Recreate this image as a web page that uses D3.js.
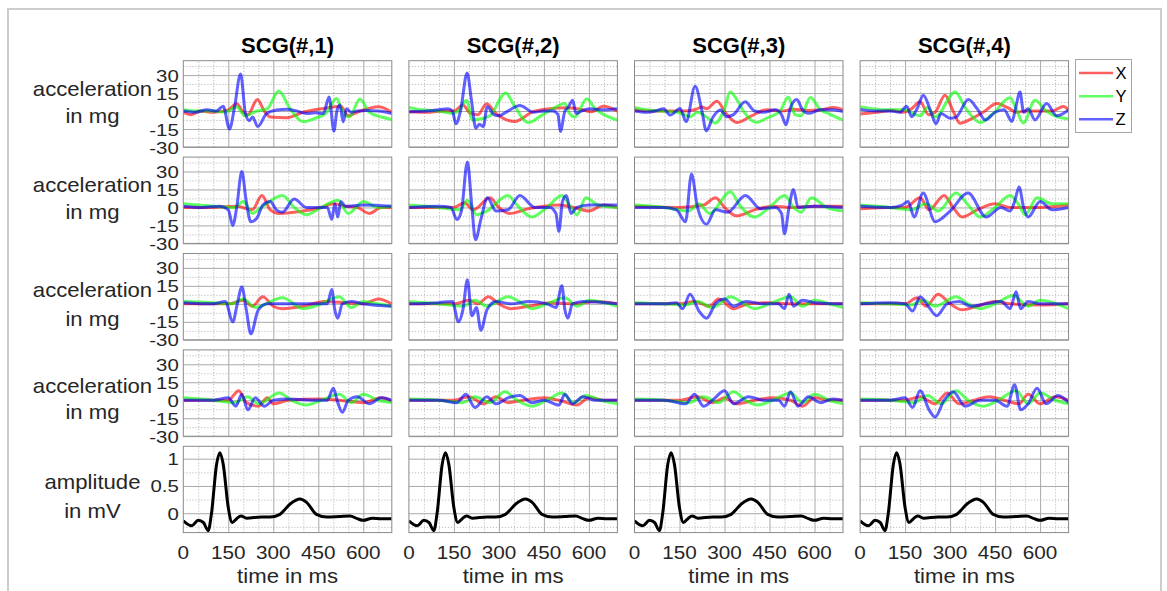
<!DOCTYPE html>
<html><head><meta charset="utf-8">
<script src="https://cdn.jsdelivr.net/npm/d3@7"></script>
<style>body{margin:0;background:#fff}</style>
</head><body><svg id="c" width="1167" height="591"></svg>
<script>
// ---------- categories / ticks ----------
const columnTitles = ["SCG(#,1)", "SCG(#,2)", "SCG(#,3)", "SCG(#,4)"];
const seriesNames = ["X", "Y", "Z"];
const timeTicks = [0, 150, 300, 450, 600];
const timeMinorTicks = [50, 100, 200, 250, 350, 400, 500, 550, 650];
const accTicks = [-30, -15, 0, 15, 30];
const accMinorTicks = [-22.5, -7.5, 7.5, 22.5, 37.5];
const ampTicks = [0, 0.5, 1];
const ampMinorTicks = [-0.25, 0.25, 0.75];
const rowLabels = [["acceleration", "in mg"], ["acceleration", "in mg"], ["acceleration", "in mg"], ["acceleration", "in mg"], ["amplitude", "in mV"]];
const xLabel = "time in ms";

// ---------- series values: [time ms, value] ----------
// row 1
const r1c1X = [[0,-1],[25,-3],[55,0],[100,-1],[150,1],[178,6],[200,-1],[215,-3],[247,9.6],[270,0],[290,-5],[345,-5.5],[400,-1],[489,3],[525,4],[550,-4],[580,-1],[650,3.6],[695,-1]];
const r1c1Y = [[0,1],[40,0],[100,0],[140,-1],[178,3.6],[205,-4],[245,0],[280,2],[318,16.7],[356,2],[400,-9],[440,-6],[475,-2],[511,10.5],[530,0],[553,-5],[589,10],[620,-1],[660,-5],[695,-7]];
const r1c1Z = [[0,0],[40,-1],[80,1],[110,0],[133,4],[154,-15],[170,2],[191,31],[207,-2],[220,-8],[231,-5],[248,-13],[278,-2],[311,0.8],[345,1.5],[378,0],[411,-2],[440,-1.5],[467,-2],[486,11.8],[502,-16.8],[512,0],[522,5],[533,-9],[544,2],[560,-1],[580,0],[611,0.5],[650,0],[695,-2]];
const r1c2X = [[0,-0.5],[60,-1],[110,0],[150,0],[180,5],[205,-2],[230,-3],[259,6],[290,-2],[353,-8.7],[414,-0.5],[470,2],[525,2.8],[560,2],[609,-0.5],[648,4],[695,0]];
const r1c2Y = [[0,3],[40,1],[100,0],[145,-2],[165,0],[192,9],[212,-7.5],[240,-6.5],[270,-4],[323,15.1],[350,5],[398,-9.6],[440,-4],[480,2],[520,6.3],[535,-2],[553,-5],[593,10.3],[620,2],[650,-3],[695,-7.5]];
const r1c2Z = [[0,-0.5],[60,0],[100,1],[130,2],[145,0],[157,-10.6],[172,0],[194,31.7],[208,10],[223,-14.3],[235,-11],[248,-13],[261,3.5],[283,-3],[300,-4],[330,0],[370,4.6],[415,-1],[450,0],[480,0],[497,-3],[505,-17],[520,0],[531,3],[546,9],[557,-2],[575,0],[603,2],[640,1],[695,2]];
const r1c3X = [[0,1],[50,0],[100,0],[160,0],[200,1],[225,3.3],[240,2],[275,8.2],[305,-2],[341,-9.6],[390,-4],[441,1.1],[490,0],[530,1.5],[580,0.5],[620,1],[664,3],[695,1]];
const r1c3Y = [[0,3],[40,1],[90,0],[145,-1],[186,-4.7],[210,-1],[240,-5],[270,-10],[300,2],[319,15.9],[340,10],[363,0],[408,-9.6],[440,-6],[485,0],[513,11.8],[535,-3],[555,-4],[586,11.2],[620,1],[650,-2.5],[695,-7.5]];
const r1c3Z = [[0,0],[40,-1],[70,0],[97,2],[119,-3.4],[152,2.2],[172,-8.8],[202,20.6],[225,0],[239,-16.5],[262,-5],[286,0.8],[308,-4.7],[330,-3],[369,7.7],[400,0],[430,-1],[470,1],[490,-3],[505,-11.5],[520,3],[541,9.6],[560,1],[580,-1.9],[620,1],[660,1],[695,-0.5]];
const r1c4X = [[0,-2.5],[55,-1],[110,0.5],[145,-1],[172,2],[200,7.7],[228,-3],[250,-1],[283,13.2],[310,0],[333,-10.2],[367,-7],[410,-1],[456,6.3],[490,3],[522,-1],[550,0],[600,0],[640,0],[678,3.8],[695,1]];
const r1c4Y = [[0,3.5],[40,2],[100,1],[150,1],[175,-2],[200,-4],[225,3],[250,-5],[317,15.9],[350,3],[365,-2],[400,-9.6],[440,-3],[500,11],[520,2],[544,-10],[583,9],[620,0],[660,-5],[695,-6.5]];
const r1c4Z = [[0,1.4],[50,0],[100,0],[133,-1],[155,4],[172,-4.7],[190,2],[211,13.2],[235,0],[253,-10.7],[270,-2],[300,-6],[320,-5],[361,9.6],[390,2],[417,-7.4],[450,-1],[480,1],[506,-8.8],[518,2],[533,15.9],[545,-1],[560,2],[583,-7.4],[622,6.3],[655,-4],[695,1]];
// row 2
const r2c1X = [[0,0],[100,0],[180,1],[230,-2],[262,10],[290,-2],[320,-5],[400,-3],[460,0],[500,3],[540,1],[580,0],[620,-5],[660,0],[695,0]];
const r2c1Y = [[0,3],[100,1],[170,0],[200,5],[230,-5],[260,0],[330,10],[370,0],[410,-6],[460,0],[515,6],[550,-5],[600,5],[650,0],[695,1]];
const r2c1Z = [[0,1],[60,0],[120,1],[150,-2],[165,-15],[178,0],[195,30],[210,5],[225,-12],[245,-9],[265,2],[290,5],[310,-2],[330,-4],[370,7],[410,0],[450,0],[480,0],[495,-10],[505,3],[515,-8],[525,5],[540,1],[600,2],[695,1]];
const r2c2X = [[0,0],[150,0],[185,4],[215,-2],[270,8],[300,0],[335,-5],[400,-1],[450,1],[500,2],[550,0],[600,-3],[650,2],[695,0]];
const r2c2Y = [[0,2],[100,0],[170,-2],[195,6],[225,-6],[260,-3],[330,10],[360,2],[410,-8],[460,0],[510,10],[540,0],[560,-6],[590,8],[630,2],[695,0]];
const r2c2Z = [[0,0],[100,1],[140,0],[160,-10],[175,-3],[195,38],[210,0],[222,-27],[240,-10],[262,8],[290,-3],[330,-2],[370,10],[420,0],[470,0],[490,-5],[500,-20],[512,5],[525,10],[540,-5],[560,0],[600,2],[695,2]];
const r2c3X = [[0,1],[150,0],[230,2],[270,8],[300,0],[340,-7],[400,-2],[460,1],[520,0],[600,1],[695,1]];
const r2c3Y = [[0,2],[100,0],[180,-3],[215,3],[250,-5],[320,13],[350,2],[400,-8],[450,0],[500,10],[530,0],[555,-4],[590,8],[640,0],[695,-3]];
const r2c3Z = [[0,0],[100,0],[140,-2],[170,-12],[190,28],[210,0],[240,-14],[270,-2],[310,-4],[370,10],[420,-1],[470,0],[490,-5],[500,-22],[515,0],[530,15],[545,0],[600,1],[695,0]];
const r2c4X = [[0,-1],[100,0],[150,0],[200,8],[230,-2],[280,10],[310,0],[340,-8],[390,-2],[450,3],[500,0],[600,0],[695,2]];
const r2c4Y = [[0,2],[100,0],[170,-2],[220,3],[260,-3],[320,12],[360,2],[400,-8],[450,0],[500,10],[530,2],[550,-6],[590,8],[640,3],[695,3]];
const r2c4Z = [[0,1],[100,0],[140,2],[160,5],[180,-8],[210,12],[250,-12],[300,-3],[360,12],[420,-8],[470,0],[500,-3],[515,5],[530,17],[545,0],[560,-8],[600,5],[640,-2],[695,0]];
// row 3
const r3c1X = [[0,0],[150,0],[200,3],[230,-2],[265,6],[300,-2],[330,-4],[400,-2],[470,2],[540,1],[600,0],[650,4],[695,0]];
const r3c1Y = [[0,2],[100,1],[160,0],[200,4],[240,-3],[330,5],[400,-4],[460,0],[520,6],[560,-3],[600,2],[650,0],[695,-2]];
const r3c1Z = [[0,1],[100,0],[140,2],[165,-15],[180,0],[195,14],[210,-5],[225,-25],[250,-5],[280,0],[350,0],[450,0],[480,0],[495,12],[505,-5],[515,-12],[530,0],[560,2],[600,0],[695,-2]];
const r3c2X = [[0,0],[150,0],[200,3],[230,0],[265,6],[300,0],[340,-4],[400,-2],[470,1],[550,0],[620,2],[695,0]];
const r3c2Y = [[0,2],[100,0],[180,-2],[220,3],[260,-2],[330,6],[380,0],[410,-4],[460,0],[520,5],[560,-2],[600,3],[695,-2]];
const r3c2Z = [[0,0],[100,1],[145,2],[165,-15],[180,-5],[195,20],[210,-10],[225,-3],[240,-22],[260,-5],[290,2],[340,0],[400,2],[460,0],[490,-3],[510,15],[520,-5],[530,-12],[545,0],[580,2],[695,0]];
const r3c3X = [[0,0],[150,0],[200,2],[250,-2],[280,4],[330,-4],[380,0],[450,1],[520,0],[600,0],[695,0]];
const r3c3Y = [[0,1],[100,0],[170,-1],[210,2],[260,-3],[320,6],[360,1],[400,-4],[450,0],[520,6],[560,-2],[600,3],[650,0],[695,-3]];
const r3c3Z = [[0,0],[100,0],[140,1],[160,-4],[185,8],[215,-6],[240,-12],[270,0],[300,4],[330,-2],[370,2],[430,0],[480,0],[500,-4],[515,8],[530,-2],[560,3],[600,1],[695,0]];
const r3c4X = [[0,0],[150,0],[190,5],[220,-2],[260,8],[300,0],[340,-5],[390,-2],[450,2],[500,0],[600,-1],[695,0]];
const r3c4Y = [[0,1],[100,0],[170,-1],[210,3],[250,-2],[320,6],[360,0],[400,-4],[450,0],[510,7],[560,-2],[600,3],[695,-4]];
const r3c4Z = [[0,0],[100,1],[150,0],[175,-6],[200,6],[230,-3],[255,-10],[290,0],[330,2],[370,-2],[420,0],[470,2],[500,-4],[520,10],[535,-4],[560,2],[600,0],[695,0]];
// row 4
const r4c1X = [[0,0],[150,0],[185,8],[210,-2],[250,-5],[280,2],[300,-3],[350,0],[450,1],[520,0],[600,-2],[660,2],[695,-1]];
const r4c1Y = [[0,2],[100,0],[170,-2],[215,3],[250,-3],[320,6],[360,0],[410,-4],[460,0],[520,5],[560,-2],[600,5],[650,0],[695,-2]];
const r4c1Z = [[0,0],[100,0],[150,2],[175,-5],[195,5],[215,-8],[240,2],[270,-5],[300,0],[350,1],[450,0],[480,0],[500,10],[515,-2],[530,-10],[550,0],[580,3],[620,-3],[660,2],[695,0]];
const r4c2X = [[0,0],[150,0],[200,3],[250,-3],[290,3],[330,-2],[380,0],[450,2],[500,0],[560,-4],[600,2],[650,0],[695,0]];
const r4c2Y = [[0,1],[100,0],[180,-2],[220,3],[270,-2],[320,7],[360,0],[410,-5],[460,0],[510,6],[550,-2],[590,4],[640,0],[695,-3]];
const r4c2Z = [[0,0],[100,0],[160,-2],[190,5],[220,-6],[260,3],[290,-3],[330,2],[370,4],[410,-2],[450,0],[500,-4],[520,5],[545,-3],[580,3],[620,0],[695,0]];
const r4c3X = [[0,0],[150,0],[210,3],[260,-2],[300,2],[340,-3],[400,0],[460,2],[520,0],[560,-5],[600,2],[650,0],[695,0]];
const r4c3Y = [[0,1],[100,0],[180,-2],[230,3],[280,-2],[330,7],[370,0],[410,-4],[460,0],[520,6],[560,-2],[600,5],[650,0],[695,-3]];
const r4c3Z = [[0,0],[100,0],[170,-3],[200,5],[230,-5],[260,0],[300,8],[330,-3],[380,3],[430,0],[480,0],[500,-5],[520,7],[545,-5],[580,3],[620,-2],[660,1],[695,0]];
const r4c4X = [[0,0],[150,0],[200,3],[250,-3],[290,6],[330,-3],[380,0],[430,3],[480,0],[530,-3],[560,5],[600,-3],[650,3],[695,0]];
const r4c4Y = [[0,1],[100,0],[180,-2],[225,4],[270,-3],[320,8],[360,0],[410,-5],[460,0],[520,8],[560,-3],[600,6],[650,0],[695,-3]];
const r4c4Z = [[0,0],[100,0],[150,2],[175,-6],[200,8],[230,-8],[250,-14],[280,0],[310,7],[350,-5],[400,0],[450,0],[490,-5],[515,13],[535,-8],[560,-3],[590,10],[620,-3],[660,4],[695,-2]];
// ECG (same beat template in every column)
const ecg = [[0,-0.14],[28,-0.23],[50,-0.13],[67,-0.17],[83,-0.32],[94,0],[111,0.9],[122,1.11],[133,0.9],[150,0.1],[163,-0.17],[178,-0.1],[192,-0.05],[211,-0.09],[260,-0.07],[289,-0.07],[322,-0.02],[356,0.17],[389,0.26],[411,0.2],[444,-0.02],[478,-0.07],[520,-0.06],[556,-0.05],[580,-0.1],[600,-0.13],[630,-0.09],[660,-0.1],[695,-0.1]];

const scgTable = [
  [[r1c1X,r1c1Y,r1c1Z],[r1c2X,r1c2Y,r1c2Z],[r1c3X,r1c3Y,r1c3Z],[r1c4X,r1c4Y,r1c4Z]],
  [[r2c1X,r2c1Y,r2c1Z],[r2c2X,r2c2Y,r2c2Z],[r2c3X,r2c3Y,r2c3Z],[r2c4X,r2c4Y,r2c4Z]],
  [[r3c1X,r3c1Y,r3c1Z],[r3c2X,r3c2Y,r3c2Z],[r3c3X,r3c3Y,r3c3Z],[r3c4X,r3c4Y,r3c4Z]],
  [[r4c1X,r4c1Y,r4c1Z],[r4c2X,r4c2Y,r4c2Z],[r4c3X,r4c3Y,r4c3Z],[r4c4X,r4c4Y,r4c4Z]]
];

// ---------- layout / style ----------
const colors = ["rgba(255,0,0,0.62)", "rgba(0,255,0,0.62)", "rgba(0,0,255,0.62)"];
const legendColors = ["#ff6161", "#61ff61", "#6161ff"];
const textColor = "#262626";
const font = "'Liberation Sans', Arial, Helvetica, sans-serif";
const L0 = 183.3, colPitch = 225.6, PW = 208.5;
const T0 = 60.7, rowPitch = 96.4, PH = 86.3;
const labelBase = [[96, 123], [192.4, 219], [297, 326], [393, 419], [489, 518]];

const svg = d3.select("#c");
svg.append("rect").attr("x", 8).attr("y", 9).attr("width", 1153).attr("height", 620)
  .attr("fill", "none").attr("stroke", "#cdcdcd").attr("stroke-width", 2);

function txt(g, x, y, s, size, anchor, sx, weight, fill) {
  g.append("text").attr("transform", `translate(${x},${y}) scale(${sx},1)`)
    .attr("text-anchor", anchor).attr("font-family", font).attr("font-size", size)
    .attr("font-weight", weight || "normal").attr("fill", fill || textColor).text(s);
}

const defs = svg.append("defs");

for (let r = 0; r < 5; r++) {
  for (let c = 0; c < 4; c++) {
    const L = L0 + c * colPitch, T = T0 + r * rowPitch;
    const isEcg = r === 4;
    const x = d3.scaleLinear().domain([0, 695]).range([L, L + PW]);
    const y = isEcg ? d3.scaleLinear().domain([-0.355, 1.227]).range([T + PH, T])
                    : d3.scaleLinear().domain([-30, 42]).range([T + PH, T]);
    const yT = isEcg ? ampTicks : accTicks;
    const yM = isEcg ? ampMinorTicks : accMinorTicks;
    const g = svg.append("g");
    g.append("rect").attr("x", L).attr("y", T).attr("width", PW).attr("height", PH).attr("fill", "#fff");
    // minor grid
    const mx = g.append("g").attr("transform", `translate(0,${T + PH})`)
      .call(d3.axisBottom(x).tickValues(timeMinorTicks).tickSize(-PH).tickFormat(""));
    const my = g.append("g").attr("transform", `translate(${L},0)`)
      .call(d3.axisLeft(y).tickValues(yM).tickSize(-PW).tickFormat(""));
    [mx, my].forEach(a => { a.select(".domain").remove();
      a.selectAll("line").attr("stroke", "#bdbdbd").attr("stroke-width", 1).attr("stroke-dasharray", "1.2,1.8"); });
    // major grid
    const gx = g.append("g").attr("transform", `translate(0,${T + PH})`)
      .call(d3.axisBottom(x).tickValues(timeTicks.slice(1)).tickSize(-PH).tickFormat(""));
    const gy = g.append("g").attr("transform", `translate(${L},0)`)
      .call(d3.axisLeft(y).tickValues(yT).tickSize(-PW).tickFormat(""));
    [gx, gy].forEach(a => { a.select(".domain").remove();
      a.selectAll("line").attr("stroke", "#a9a9a9").attr("stroke-width", 1); });
    // clip
    const cid = `clip${r}${c}`;
    defs.append("clipPath").attr("id", cid).append("rect").attr("x", L).attr("y", T).attr("width", PW).attr("height", PH);
    const plot = g.append("g").attr("clip-path", `url(#${cid})`);
    const line = d3.line().x(d => x(d[0])).y(d => y(d[1])).curve(d3.curveMonotoneX);
    if (isEcg) {
      plot.append("path").attr("d", line(ecg)).attr("fill", "none").attr("stroke", "#000")
        .attr("stroke-width", 3).attr("stroke-linejoin", "round");
    } else {
      scgTable[r][c].forEach((s, i) => {
        plot.append("path").attr("d", line(s)).attr("fill", "none").attr("stroke", colors[i])
          .attr("stroke-width", 3).attr("stroke-linejoin", "round");
      });
    }
    // box
    g.append("rect").attr("x", L).attr("y", T).attr("width", PW).attr("height", PH)
      .attr("fill", "none").attr("stroke", "#8a8a8a").attr("stroke-width", 1);
    // y tick labels
    if (c === 0) {
      yT.forEach(v => txt(svg, L - 4.5, y(v) + 6.5, (v < 0 ? "-" + Math.abs(v) : String(v)), 17, "end", 1.2));
      txt(svg, 92.5, labelBase[r][0], rowLabels[r][0], 20.5, "middle", 1.08);
      txt(svg, 92.5, labelBase[r][1], rowLabels[r][1], 20.5, "middle", 1.08);
    }
    if (isEcg) {
      timeTicks.forEach(v => txt(svg, x(v), T + PH + 26, String(v), 18.5, "middle", 1.12));
      txt(svg, L + PW / 2, 583, xLabel, 20.5, "middle", 1.08);
    }
    if (r === 0) {
      txt(svg, L + PW / 2, 53, columnTitles[c], 22, "middle", 1.0, "bold", "#000");
    }
  }
}

// legend
const lg = svg.append("g");
lg.append("rect").attr("x", 1075.5).attr("y", 59.5).attr("width", 56).attr("height", 73)
  .attr("fill", "#fff").attr("stroke", "#a6a6a6").attr("stroke-width", 1);
const legY = d3.scalePoint().domain(seriesNames).range([73, 119.3]);
seriesNames.forEach((s, i) => {
  lg.append("line").attr("x1", 1079).attr("x2", 1113).attr("y1", legY(s)).attr("y2", legY(s))
    .attr("stroke", legendColors[i]).attr("stroke-width", 2.5);
  txt(lg, 1115.5, legY(s) + 6, s, 16.5, "start", 1.0, "normal", "#000");
});
</script>
</body></html>
